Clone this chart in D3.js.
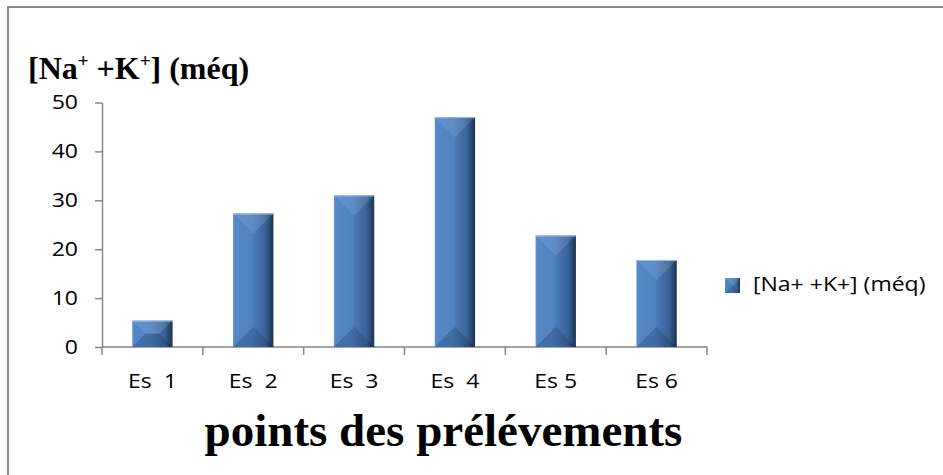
<!DOCTYPE html>
<html>
<head>
<meta charset="utf-8">
<script src="https://cdn.jsdelivr.net/npm/d3@7"></script>
<style>
  html, body { margin: 0; padding: 0; background: #fff; }
  svg { display: block; }
</style>
</head>
<body>
<svg id="chart" width="943" height="475"></svg>
<script>
// Sampling points and their sodium + potassium content (méq)
const categories = ["Es  1", "Es  2", "Es  3", "Es  4", "Es 5", "Es 6"];
const values = [5.4, 27.3, 31.0, 47.0, 22.8, 17.8];
const yTicks = [0, 10, 20, 30, 40, 50];
const seriesName = "[Na+ +K+] (méq)";
const xTitle = "points des prélévements";

const svg = d3.select("#chart");
const W = 943, H = 475;
const plot = { left: 102, right: 707, top: 102.5, bottom: 347 };
const axisColor = "#868686";
const labelFont = "'Open Sans', sans-serif";
const serif = "'Liberation Serif', 'Times New Roman', serif";
const labelSize = 20;
const stretch = 1.15; // labels are drawn slightly wide

// horizontal stretch about a fixed x position
const widen = (x0, k) => `translate(${x0},0) scale(${k},1) translate(${-x0},0)`;

// Outer frame
svg.append("path")
  .attr("d", `M8,${H + 2} L8,7 L${W + 2},7`)
  .attr("fill", "none")
  .attr("stroke", "#8a8a8a")
  .attr("stroke-width", 2);

const x = d3.scaleBand().domain(categories).range([plot.left, plot.right]).paddingInner(0.6).paddingOuter(0.3);
const xb = d3.scaleBand().domain(categories).range([plot.left, plot.right]);
const y = d3.scaleLinear().domain([0, 50]).range([plot.bottom, plot.top]);

// Bar shading: darker toward the right edge
const defs = svg.append("defs");
const grad = defs.append("linearGradient").attr("id", "barShade")
  .attr("x1", "0").attr("x2", "1").attr("y1", "0").attr("y2", "0");
[[0, "#5b8ed0"], [0.06, "#4f83c4"], [0.45, "#4b7ebf"], [0.55, "#4676b3"], [0.8, "#3a6398"], [1, "#1c3252"]]
  .forEach(([o, c]) => grad.append("stop").attr("offset", o).attr("stop-color", c));

// Y axis
const yAxis = svg.append("g").attr("transform", `translate(${plot.left},0)`)
  .call(d3.axisLeft(y).tickValues(yTicks).tickSize(7).tickPadding(17).tickSizeOuter(0));
yAxis.select(".domain").attr("stroke", axisColor).attr("stroke-width", 1.5);
yAxis.selectAll(".tick line").attr("stroke", axisColor).attr("stroke-width", 1.5);
yAxis.selectAll(".tick text").attr("font-family", labelFont).attr("font-size", labelSize).attr("fill", "#000")
  .attr("transform", widen(-24, stretch));

// X axis with ticks at category boundaries
const xAxis = svg.append("g").attr("transform", `translate(0,${plot.bottom})`)
  .call(d3.axisBottom(x).tickSize(0).tickPadding(0).tickSizeOuter(0));
xAxis.select(".domain").attr("d", `M${plot.left},0H${plot.right}`).attr("stroke", axisColor).attr("stroke-width", 1.5);
xAxis.selectAll(".tick text").attr("font-family", labelFont).attr("font-size", labelSize).attr("fill", "#000")
  .style("white-space", "pre").attr("y", 41).attr("dy", null)
  .attr("transform", widen(0, stretch));
const bounds = categories.map(c => xb(c)).concat([plot.right]);
xAxis.selectAll("line.sep").data(bounds).join("line").attr("class", "sep")
  .attr("x1", d => d).attr("x2", d => d).attr("y1", 0).attr("y2", 8)
  .attr("stroke", axisColor).attr("stroke-width", 1.5);

// Beveled bars
function facets(x0, x1, y0, y1) {
  const d = Math.min((x1 - x0) / 2, (y1 - y0) / 2);
  return {
    top: [[x0, y0], [x1, y0], [x1 - d, y0 + d], [x0 + d, y0 + d]],
    bottom: [[x0, y1], [x1, y1], [x1 - d, y1 - d], [x0 + d, y1 - d]],
    left: [[x0, y0], [x0 + d, y0 + d], [x0 + d, y1 - d], [x0, y1]]
  };
}
const pts = p => p.map(q => q.join(",")).join(" ");

const bars = svg.append("g").selectAll("g").data(categories.map((c, i) => ({ c, v: values[i] }))).join("g");
bars.each(function (d) {
  const g = d3.select(this);
  const x0 = x(d.c), x1 = x0 + x.bandwidth(), y0 = y(d.v), y1 = y(0);
  g.append("rect").attr("x", x0).attr("y", y0).attr("width", x1 - x0).attr("height", y1 - y0)
    .attr("fill", "url(#barShade)");
  const f = facets(x0, x1, y0, y1);
  g.append("polygon").attr("points", pts(f.top)).attr("fill", "#ffffff").attr("fill-opacity", 0.12);
  g.append("polygon").attr("points", pts(f.bottom)).attr("fill", "#000000").attr("fill-opacity", 0.14);
  g.append("polygon").attr("points", pts(f.left)).attr("fill", "#ffffff").attr("fill-opacity", 0.04);
  g.append("line").attr("x1", x0).attr("x2", x1).attr("y1", y0 + 0.5).attr("y2", y0 + 0.5)
    .attr("stroke", "#9cbbe3").attr("stroke-width", 1);
});

// Y axis title with superscript charges
const yt = svg.append("text").attr("x", 28).attr("y", 79)
  .attr("font-family", serif)
  .attr("font-weight", "bold").attr("font-size", 32).attr("fill", "#000");
yt.append("tspan").text("[Na");
yt.append("tspan").text("+").attr("font-size", 19).attr("dy", -12);
yt.append("tspan").text(" +K").attr("dy", 12);
yt.append("tspan").text("+").attr("font-size", 19).attr("dy", -12);
yt.append("tspan").text("] (méq)").attr("dy", 12);

// X axis title
svg.append("text").attr("x", 443.5).attr("y", 446).attr("text-anchor", "middle")
  .attr("font-family", serif)
  .attr("font-weight", "bold").attr("font-size", 47).attr("fill", "#000")
  .text(xTitle);

// Legend
const lg = svg.append("g").attr("transform", "translate(725,278)");
const s = 15;
lg.append("rect").attr("width", s).attr("height", s).attr("fill", "url(#barShade)");
lg.append("polygon").attr("points", pts([[0, 0], [s, 0], [s / 2, s / 2]])).attr("fill", "#fff").attr("fill-opacity", 0.12);
lg.append("polygon").attr("points", pts([[0, s], [s, s], [s / 2, s / 2]])).attr("fill", "#000").attr("fill-opacity", 0.14);
lg.append("text").attr("x", 28).attr("y", 13).attr("font-family", labelFont).attr("font-size", labelSize)
  .attr("fill", "#000").attr("transform", widen(28, stretch)).text(seriesName);
</script>
</body>
</html>
